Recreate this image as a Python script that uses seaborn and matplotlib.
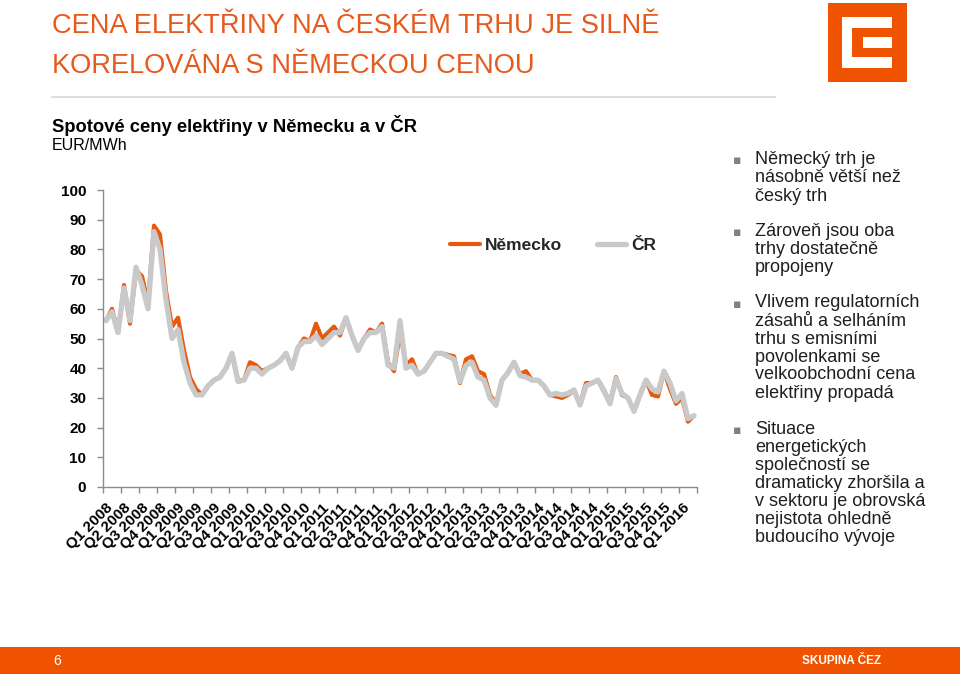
import numpy as np
import pandas as pd
import matplotlib
matplotlib.use("Agg")
import matplotlib.pyplot as plt
import seaborn as sns
from matplotlib.patches import Rectangle
from matplotlib.lines import Line2D

# ---------------- data ----------------
quarters = ["Q1 2008", "Q2 2008", "Q3 2008", "Q4 2008",
            "Q1 2009", "Q2 2009", "Q3 2009", "Q4 2009",
            "Q1 2010", "Q2 2010", "Q3 2010", "Q4 2010",
            "Q1 2011", "Q2 2011", "Q3 2011", "Q4 2011",
            "Q1 2012", "Q2 2012", "Q3 2012", "Q4 2012",
            "Q1 2013", "Q2 2013", "Q3 2013", "Q4 2013",
            "Q1 2014", "Q2 2014", "Q3 2014", "Q4 2014",
            "Q1 2015", "Q2 2015", "Q3 2015", "Q4 2015",
            "Q1 2016"]

germany = [56, 60, 52, 68, 55, 73, 71, 62, 88, 85, 66, 54, 57, 46, 37, 33, 31, 34, 36, 37,
           40, 45, 36, 36, 42, 41, 39, 40, 41, 42.5, 45, 40, 47, 50, 49, 55, 50, 52, 54, 51,
           57, 51, 46, 50, 53, 52, 55, 42, 39, 52, 41, 43, 38, 39, 42, 45, 45, 44.5, 44, 35,
           43, 44, 39, 38, 31, 28, 36, 38.5, 42, 38, 39, 36, 36, 34, 31, 30.5, 30, 31, 32.5, 28,
           35, 35, 36, 32, 28.5, 37, 31, 30, 25.5, 31, 36, 31, 30.5, 39, 33, 28, 30, 22, 24]

czech = [56, 59, 52, 67, 56, 74, 68, 60, 86, 80, 63, 50, 53, 42, 35, 31, 31, 34, 36, 37,
         40, 45, 35.5, 36, 40, 40, 38, 40, 41, 42.5, 45, 40, 47, 49, 49, 51, 48, 50, 52, 52,
         57, 51, 46, 50, 52, 52, 54, 41, 40, 56, 40, 41, 38, 39, 42, 45, 45, 44, 43, 35.5,
         41, 42, 37, 36, 30, 27.5, 36, 38.5, 42, 37.5, 37, 36, 36, 34, 31, 31.5, 31, 31.5, 32.7, 27.6,
         34, 35, 36, 32.5, 28, 36.5, 31.5, 30, 25.5, 31, 36, 33, 32, 39, 35, 29, 31.5, 23, 24]

month = list(range(len(germany)))
series_names = ["Německo", "ČR"]

bullets = [
    ["Německý trh je", "násobně větší než", "český trh"],
    ["Zároveň jsou oba", "trhy dostatečně", "propojeny"],
    ["Vlivem regulatorních", "zásahů a selháním", "trhu s emisními",
     "povolenkami se", "velkoobchodní cena", "elektřiny propadá"],
    ["Situace", "energetických", "společností se", "dramaticky zhoršila a",
     "v sektoru je obrovská", "nejistota ohledně", "budoucího vývoje"],
]
bullet_tops = [160, 232, 303, 430]

# ---------------- style ----------------
ORANGE_LINE = "#E8590C"
GRAY_LINE = "#C9C9C9"
BRAND = "#EF5300"
TITLE_COL = "#E65A1E"
AXIS_COL = "#8C8C8C"

sns.set_theme(style="white")
plt.rcParams["font.family"] = ["Liberation Sans", "DejaVu Sans"]

W, H = 960, 674
fig = plt.figure(figsize=(W / 100, H / 100), dpi=100)


def fx(px):
    return px / W


def fy(py):
    return 1 - py / H


ax = fig.add_axes([fx(103), fy(487), 594 / W, 297 / H])

df = pd.DataFrame({
    "month": month + month,
    "price": germany + czech,
    "market": [series_names[0]] * len(month) + [series_names[1]] * len(month),
})

sns.lineplot(data=df[df.market == series_names[0]], x="month", y="price",
             color=ORANGE_LINE, linewidth=3.0, ax=ax, legend=False, sort=False,
             solid_joinstyle="round", solid_capstyle="round")
sns.lineplot(data=df[df.market == series_names[1]], x="month", y="price",
             color=GRAY_LINE, linewidth=3.8, ax=ax, legend=False, sort=False,
             solid_joinstyle="round", solid_capstyle="round")

ax.set_xlim(-0.5, len(month) - 0.5)
ax.set_ylim(0, 100)
ax.set_xlabel("")
ax.set_ylabel("")

for s in ["top", "right"]:
    ax.spines[s].set_visible(False)
for s in ["left", "bottom"]:
    ax.spines[s].set_color(AXIS_COL)
    ax.spines[s].set_linewidth(1.0)

ax.set_yticks(range(0, 101, 10))
ax.set_yticklabels([str(v) for v in range(0, 101, 10)], fontweight="bold", fontsize=11)
ax.tick_params(axis="y", direction="out", length=4, width=1, color=AXIS_COL, pad=8,
               left=True, labelcolor="black")

ax.set_xticks(np.arange(-0.5, len(month), 3))
ax.set_xticklabels([])
ax.tick_params(axis="x", which="major", direction="out", length=4, width=1,
               color=AXIS_COL, bottom=True)
ax.set_xticks(range(0, len(month), 3), minor=True)
ax.set_xticklabels(quarters, minor=True, rotation=45, ha="right", va="top",
                   rotation_mode="anchor", fontweight="bold", fontsize=11)
ax.tick_params(axis="x", which="minor", length=0, pad=10, labelcolor="black")

handles = [Line2D([], [], color=ORANGE_LINE, lw=3.0),
           Line2D([], [], color=GRAY_LINE, lw=3.8)]
ax.legend(handles, series_names, ncol=2, frameon=False, loc="center left",
          bbox_to_anchor=((450 - 103) / 594, (487 - 245) / 297),
          borderpad=0, borderaxespad=0, handlelength=1.7, handletextpad=0.3,
          columnspacing=2.0, prop={"weight": "bold", "size": 12.5})

# ---------------- titles & decorations ----------------
title_fam = ["Liberation Sans", "DejaVu Sans"]
fig.text(fx(52), fy(33), "CENA ELEKTŘINY NA ČESKÉM TRHU JE SILNĚ", color=TITLE_COL,
         fontsize=19.6, family=title_fam, va="baseline", ha="left")
fig.text(fx(52), fy(73), "KORELOVÁNA S NĚMECKOU CENOU", color=TITLE_COL,
         fontsize=19.6, family=title_fam, va="baseline", ha="left")
fig.add_artist(Line2D([fx(52), fx(775)], [fy(97), fy(97)], color="#DCDCDC", lw=1.5))

# logo
fig.add_artist(Rectangle((fx(828), fy(82)), 79 / W, 79 / H, color=BRAND, lw=0))
for (x0, y0, w, h) in [(842, 17, 10, 51), (842, 17, 50, 11), (842, 57, 50, 11), (863, 37, 29, 11)]:
    fig.add_artist(Rectangle((fx(x0), fy(y0 + h)), w / W, h / H, color="white", lw=0))

fig.text(fx(52), fy(126), "Spotové ceny elektřiny v Německu a v ČR", fontsize=13.2,
         fontweight="bold", va="center", ha="left", color="black")
fig.text(fx(52), fy(146), "EUR/MWh", fontsize=11.5, va="center", ha="left", color="black")

# bullets
for lines, top in zip(bullets, bullet_tops):
    fig.text(fx(733), fy(top + 1), "▪", fontsize=9, color="#7F7F7F", va="center", ha="left",
             family=["DejaVu Sans"])
    for i, line in enumerate(lines):
        fig.text(fx(755), fy(top + 18 * i), line, fontsize=13, color="#1F1F1F",
                 va="center", ha="left")

# footer
fig.add_artist(Rectangle((0, 0), 1, fy(647), color=BRAND, lw=0))
fig.text(fx(57), fy(661), "6", color="white", fontsize=10, va="center", ha="center")
fig.text(fx(881), fy(661), "SKUPINA ČEZ", color="white", fontsize=8.5, fontweight="bold",
         va="center", ha="right", family=title_fam)

fig.savefig("out.png", dpi=100)
